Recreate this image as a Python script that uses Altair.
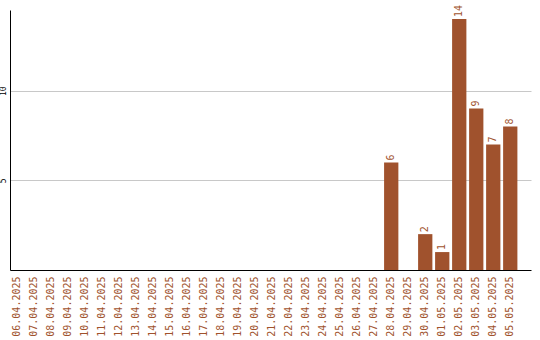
import altair as alt
import pandas as pd

dates = [
    "06.04.2025", "07.04.2025", "08.04.2025", "09.04.2025", "10.04.2025",
    "11.04.2025", "12.04.2025", "13.04.2025", "14.04.2025", "15.04.2025",
    "16.04.2025", "17.04.2025", "18.04.2025", "19.04.2025", "20.04.2025",
    "21.04.2025", "22.04.2025", "23.04.2025", "24.04.2025", "25.04.2025",
    "26.04.2025", "27.04.2025", "28.04.2025", "29.04.2025", "30.04.2025",
    "01.05.2025", "02.05.2025", "03.05.2025", "04.05.2025", "05.05.2025",
]
counts = [0] * 22 + [6, 0, 2, 1, 14, 9, 7, 8]

df = pd.DataFrame({"date": dates, "count": counts})

COLOR = "#A0522D"
FONT = "DejaVu Sans Mono"

x = alt.X(
    "date:N",
    sort=dates,
    scale=alt.Scale(paddingInner=0.16, paddingOuter=0.4, align=0),
    axis=alt.Axis(
        title=None,
        labelAngle=270,
        labelAlign="right",
        labelBaseline="middle",
        labelColor=COLOR,
        labelFont=FONT,
        labelFontSize=10,
        labelPadding=6,
        labelOverlap=False,
        ticks=False,
        domainColor="black",
        grid=False,
    ),
)
y = alt.Y(
    "count:Q",
    scale=alt.Scale(domain=[0, 14.5], nice=False),
    axis=alt.Axis(
        title=None,
        values=[5, 10],
        labelAngle=270,
        labelAlign="center",
        labelBaseline="bottom",
        labelFont=FONT,
        labelFontSize=8,
        labelColor="black",
        labelPadding=3,
        ticks=False,
        domainColor="black",
        gridColor="#c8c8c8",
    ),
)

bars = alt.Chart(df).mark_bar(color=COLOR).encode(x=x, y=y)

labels = (
    alt.Chart(df)
    .transform_filter("datum.count > 0")
    .mark_text(angle=270, align="left", baseline="middle", dx=2,
               color=COLOR, font=FONT, fontSize=10)
    .encode(x=alt.X("date:N", sort=dates), y="count:Q", text="count:Q")
)

chart = (
    alt.layer(bars, labels)
    .properties(
        width=521,
        height=260,
        autosize=alt.AutoSizeParams(type="none"),
        padding={"left": 10, "top": 10, "right": 9, "bottom": 70},
        background="white",
    )
    .configure_view(stroke=None)
)

chart.save("out.html", embed_options={"renderer": "svg", "actions": False})
